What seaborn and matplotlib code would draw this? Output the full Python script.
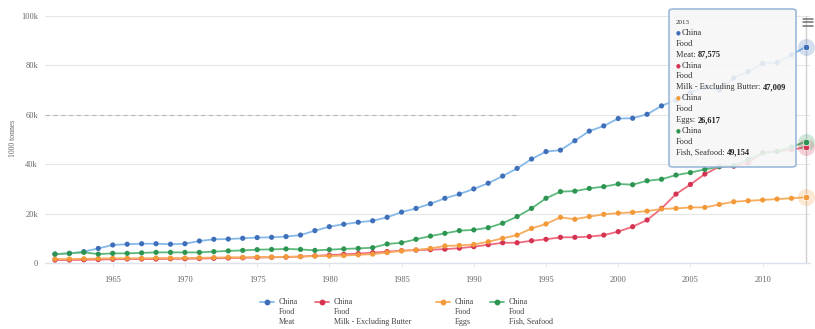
import matplotlib
matplotlib.use("Agg")
import matplotlib.pyplot as plt
from matplotlib.lines import Line2D
from matplotlib.patches import FancyBboxPatch
import pandas as pd
import seaborn as sns

# ---- data: China, food production (1000 tonnes) ----
years = list(range(1961, 2014))
meat = [3600, 3900, 4600, 5900, 7300, 7600, 7800, 7800, 7600, 7800,
        8900, 9600, 9700, 10000, 10300, 10400, 10700, 11300, 13100, 14700,
        15700, 16500, 17100, 18500, 20600, 22100, 24000, 26200, 27900, 30000,
        32300, 35200, 38300, 42100, 45100, 45700, 49500, 53400, 55500, 58500,
        58600, 60200, 63600, 66000, 69000, 71200, 70000, 74900, 77500, 80800,
        81100, 84300, 87575]
milk = [1200, 1200, 1300, 1400, 1500, 1600, 1600, 1600, 1700, 1700,
        1800, 1900, 2000, 2100, 2200, 2300, 2400, 2600, 2900, 3200,
        3500, 3800, 4200, 4600, 5000, 5200, 5400, 5600, 6000, 6600,
        7400, 8200, 8200, 9000, 9600, 10400, 10400, 10700, 11300, 12700,
        14700, 17400, 22100, 27900, 31800, 36000, 39000, 39200, 40500, 44700,
        45200, 45800, 47009]
eggs = [1600, 1600, 1700, 1800, 1900, 1900, 1900, 2000, 2000, 2000,
        2100, 2200, 2300, 2300, 2400, 2400, 2500, 2600, 2800, 2800,
        3000, 3300, 3600, 4200, 4900, 5300, 5900, 6900, 7100, 7500,
        8600, 10000, 11300, 14000, 15800, 18500, 17700, 18800, 19700, 20200,
        20500, 21000, 21900, 22100, 22500, 22500, 23700, 24800, 25200, 25500,
        25900, 26200, 26617]
fish = [3600, 3900, 4300, 3600, 3900, 3900, 4100, 4300, 4300, 4300,
        4300, 4600, 4900, 5100, 5400, 5500, 5700, 5500, 5100, 5400,
        5700, 5900, 6200, 7700, 8200, 9600, 10900, 12000, 13100, 13400,
        14300, 16100, 18800, 22100, 26200, 28900, 29100, 30200, 30900, 32000,
        31700, 33300, 33900, 35600, 36600, 37900, 39000, 39400, 42000, 44500,
        45100, 47000, 49154]

items = ["Meat", "Milk - Excluding Butter", "Eggs", "Fish, Seafood"]
country = "China"
element = "Food"
y_ticks = [0, 20000, 40000, 60000, 80000, 100000]
y_tick_labels = ["0", "20k", "40k", "60k", "80k", "100k"]
x_ticks = [1965, 1970, 1975, 1980, 1985, 1990, 1995, 2000, 2005, 2010]
y_title = "1000 tonnes"
hover_year = 2013

line_colors = {"Meat": "#86b9ea", "Milk - Excluding Butter": "#ef6a7c",
               "Eggs": "#f8ac5e", "Fish, Seafood": "#5cb97c"}
marker_colors = {"Meat": "#3f6fb8", "Milk - Excluding Butter": "#d43352",
                 "Eggs": "#f29a3a", "Fish, Seafood": "#2e9452"}

df = pd.DataFrame({
    "Year": years * 4,
    "Value": meat + milk + eggs + fish,
    "Item": sum([[name] * len(years) for name in items], []),
})

# ---- figure ----
W, H = 815, 329
sns.set_theme(style="white")
plt.rcParams["font.family"] = ["Liberation Serif", "DejaVu Serif"]

fig = plt.figure(figsize=(W / 100, H / 100), dpi=100)
ax = fig.add_axes([45 / W, 1 - 263 / H, (810 - 45) / W, (263 - 16) / H])

sns.lineplot(data=df, x="Year", y="Value", hue="Item", palette=line_colors,
             linewidth=1.3, legend=False, ax=ax, zorder=3)
sns.scatterplot(data=df, x="Year", y="Value", hue="Item", palette=marker_colors,
                s=14, linewidth=0, legend=False, ax=ax, zorder=4)

ax.set_xlim(1960.31, 2013.28)
ax.set_ylim(0, 100000)
ax.set_xticks(x_ticks)
ax.set_xticklabels([str(t) for t in x_ticks])
ax.set_yticks(y_ticks)
ax.set_yticklabels(y_tick_labels)
ax.set_xlabel("")
ax.set_ylabel("")
ax.grid(axis="y", color="#e6e6e6", linewidth=0.8)
ax.grid(axis="x", visible=False)
for side in ["left", "right", "top"]:
    ax.spines[side].set_visible(False)
ax.spines["bottom"].set_color("#dde3ec")
ax.spines["bottom"].set_linewidth(1.0)
ax.tick_params(axis="y", length=0, pad=5, labelsize=6, labelcolor="#666666")
ax.tick_params(axis="x", length=3, width=0.6, color="#e0e6ee", pad=6.5,
               labelsize=6, labelcolor="#666666", bottom=True)

# dashed hover reference on the 60k line
ax.axhline(60000, xmin=0, xmax=0.62, color="#b8b8b8", linewidth=0.8,
           linestyle=(0, (4, 3)), zorder=2)

# crosshair at the hovered year
ax.axvline(hover_year, color="#d0d0d0", linewidth=1.0, zorder=2)

# hovered points with halos
series = {"Meat": meat, "Milk - Excluding Butter": milk,
          "Eggs": eggs, "Fish, Seafood": fish}
for name in items:
    v = series[name][years.index(hover_year)]
    ax.scatter([hover_year], [v], s=150, color=marker_colors[name], alpha=0.22,
               linewidth=0, zorder=5, clip_on=False)
    ax.scatter([hover_year], [v], s=22, color=marker_colors[name],
               edgecolor="white", linewidth=0.5, zorder=6, clip_on=False)

fig.text(13 / W, 1 - 138 / H, y_title, rotation=90, ha="center", va="center",
         fontsize=5.6, color="#666666")

# ---- tooltip ----
box = FancyBboxPatch((669 / W, 1 - 167 / H), (796 - 669) / W, (167 - 9) / H,
                     boxstyle="round,pad=0,rounding_size=0.006",
                     transform=fig.transFigure, facecolor="#f7f7f7",
                     edgecolor="#8fb0d6", linewidth=1.2, alpha=0.88,
                     zorder=20, clip_on=False)
ax.add_patch(box)

renderer = fig.canvas.get_renderer()
tx = 676
line_h = 10.9
y0 = 22
fig.text(tx / W, 1 - y0 / H, str(hover_year), fontsize=5, color="#333333",
         va="center", zorder=30)
row = 1
for name in items:
    v = series[name][years.index(hover_year)]
    yy = 1 - (y0 + row * line_h) / H
    fig.text(tx / W, yy, "\u25cf", fontsize=4, color=marker_colors[name],
             va="center", family="DejaVu Sans", zorder=30)
    fig.text((tx + 6) / W, yy, country, fontsize=6, color="#333333",
             va="center", zorder=30)
    yy = 1 - (y0 + (row + 1) * line_h) / H
    fig.text(tx / W, yy, element, fontsize=6, color="#333333", va="center",
             zorder=30)
    yy = 1 - (y0 + (row + 2) * line_h) / H
    t = fig.text(tx / W, yy, name + ": ", fontsize=6, color="#333333",
                 va="center", zorder=30)
    bb = t.get_window_extent(renderer=renderer)
    fig.text(bb.x1 / W, yy, f"{v:,}", fontsize=6, color="#222222",
             fontweight="bold", va="center", zorder=30)
    row += 3

# export-menu glyph
for yy in (18.5, 22, 25.5):
    fig.add_artist(Line2D([803 / W, 813 / W], [1 - yy / H] * 2,
                          color="#707070", linewidth=1.1))

# ---- legend ----
legend_x = [267, 322, 443, 497]
for name, sx in zip(items, legend_x):
    ly = 1 - 302 / H
    fig.add_artist(Line2D([(sx - 7) / W, (sx + 7) / W], [ly, ly],
                          color=line_colors[name], linewidth=1.3))
    fig.add_artist(Line2D([sx / W], [ly], marker="o", markersize=3.2,
                          color=marker_colors[name], linewidth=0))
    for k, txt in enumerate([country, element, name]):
        fig.text((sx + 12) / W, 1 - (302 + 10 * k) / H, txt, fontsize=5.8,
                 color="#444444", va="center")

fig.savefig("out.png", dpi=100)
